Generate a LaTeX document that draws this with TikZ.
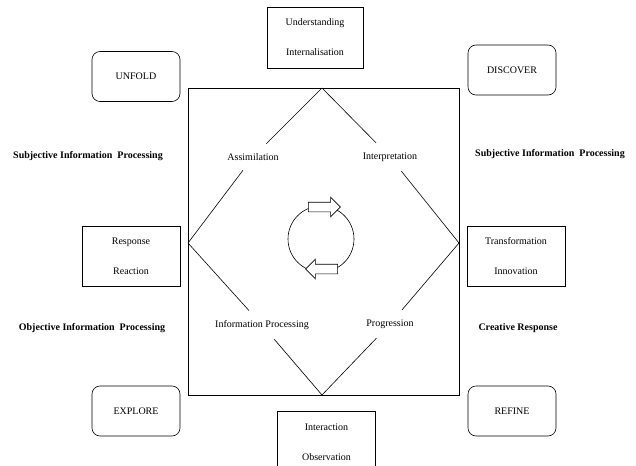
\documentclass[tikz,border=0pt]{standalone}
\usepackage{fontspec}
\setmainfont{Liberation Serif}
\usetikzlibrary{shapes.arrows}

\tikzset{
  phase/.style={draw, rounded corners=8pt, minimum width=88pt, minimum height=50pt, font=\fontsize{10}{12}\selectfont},
  pairbox/.style={draw, align=center, minimum width=98pt, minimum height=60pt, font=\fontsize{10}{12}\selectfont},
  stage/.style={inner xsep=2pt, inner ysep=9.5pt, font=\fontsize{10}{12}\selectfont},
  heading/.style={font=\fontsize{10}{12}\selectfont\bfseries},
  cyclearrow/.style={single arrow, draw, fill=white, inner xsep=0pt, inner ysep=4.5pt,
    single arrow head extend=5pt, minimum height=32pt}
}

\begin{document}
\begin{tikzpicture}[x=1pt, y=-1pt, line width=0.6pt]
\useasboundingbox (0,0) rectangle (636,465);
\clip (0,0) rectangle (636,465);

% frame
\draw (188,88) rectangle (459,395);

% diamond corners
\coordinate (top) at (322,88);
\coordinate (left) at (188,243);
\coordinate (right) at (459,243);
\coordinate (bottom) at (322,395);

% stages on the diamond
\node[stage] (assim) at (253,157) {Assimilation};
\node[stage] (interp) at (390,157) {Interpretation};
\node[stage] (infoproc) at (262,325) {Information Processing};
\node[stage] (progr) at (390,324) {Progression};

\draw (top) -- (assim) -- (left);
\draw (top) -- (interp) -- (right);
\draw (left) -- (infoproc) -- (bottom);
\draw (right) -- (progr) -- (bottom);

% cycle in the middle
\draw (321,239) circle (33);
\node[cyclearrow] (fwd) at (322,207) {};
\node[cyclearrow, shape border rotate=180] (bwd) at (324,269) {};

% corner phases
\node[phase] (unfold) at (136,76.5) {UNFOLD};
\node[phase] (discover) at (512,70) {DISCOVER};
\node[phase] (explore) at (136,411) {EXPLORE};
\node[phase] (refine) at (512,411) {REFINE};

% paired boxes
\node[pairbox, minimum width=96pt, minimum height=61pt] (underst) at (315,37.5) {Understanding\\[18pt]Internalisation};
\node[pairbox] (response) at (131,256.5) {Response\\[18pt]Reaction};
\node[pairbox] (transf) at (516,256) {Transformation\\[18pt]Innovation};
\node[pairbox, minimum height=62pt] (interact) at (326.5,442) {Interaction\\[18pt]Observation};

% headings
\node[heading] (subjleft) at (88,156) {Subjective Information\ \ Processing};
\node[heading] (subjright) at (550,154) {Subjective Information\ \ Processing};
\node[heading] (objleft) at (92,328) {Objective Information\ \ Processing};
\node[heading] (creative) at (518,328) {Creative Response};
\end{tikzpicture}
\end{document}
